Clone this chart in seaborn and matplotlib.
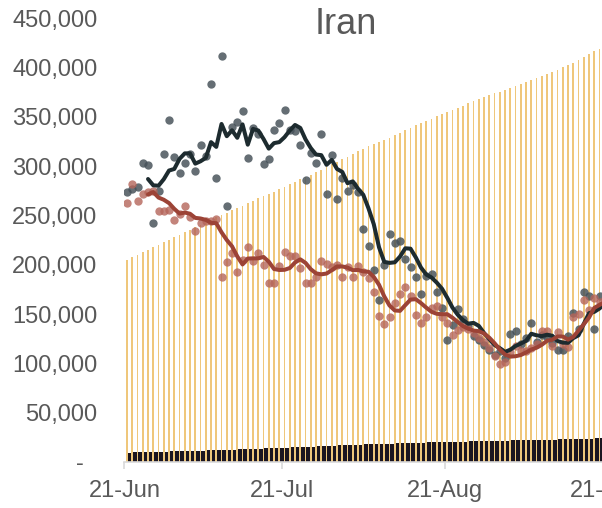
import numpy as np
import pandas as pd
import matplotlib
matplotlib.use("Agg")
import matplotlib.pyplot as plt
import seaborn as sns

# ---------------- data ----------------
start_date = "2020-06-21"

dark_points = [274, 277, 279, 303, 301, 242, 275, 312, 347, 309,
               293, 303, 312, 295, 321, 310, 383, 288, 411, 259,
               340, 345, 356, 308, 339, 332, 302, 307, 336, 344,
               357, 336, 335, 321, 286, 313, 303, 332, 272, 311,
               267, 288, 275, 281, 274, 236, 219, 195, 164, 200,
               231, 222, 224, 206, 198, 187, 170, 189, 191, 172,
               156, 124, 139, 155, 145, 138, 128, 124, 119, 114,
               108, 112, 105, 130, 133, 120, 126, 141, 122, 129,
               127, 121, 114, 114, 128, 151, 135, 172, 168, 135,
               168, 160]

red_points = [263, 282, 265, 272, 274, 275, 254, 254, 255, 245,
              251, 259, 248, 234, 242, 244, 244, 246, 188, 203,
              212, 193, 205, 218, 204, 212, 200, 181, 181, 199,
              213, 209, 209, 197, 181, 181, 188, 204, 201, 198,
              200, 188, 198, 188, 199, 193, 186, 172, 148, 140,
              147, 161, 170, 177, 168, 149, 141, 147, 156, 158,
              147, 141, 129, 134, 137, 135, 131, 126, 122, 116,
              107, 99, 101, 111, 118, 113, 112, 116, 120, 133,
              133, 118, 132, 120, 117, 147, 150, 164, 154, 166,
              162, 165]

total_cases = [204952, 207525, 209970, 212501, 215096, 217724, 220180, 222669, 225205, 227662,
               230211, 232863, 235429, 237878, 240438, 243051, 245688, 248379, 250458, 252720,
               255117, 257303, 259652, 262173, 264561, 267061, 269440, 271606, 273788, 276202,
               278827, 281413, 284034, 286523, 288839, 291172, 293606, 296273, 298909, 301530,
               304204, 306752, 309437, 312035, 314786, 317483, 320117, 322567, 324692, 326712,
               328844, 331189, 333699, 336324, 338825, 341070, 343203, 345450, 347835, 350279,
               352558, 354764, 356792, 358905, 361150, 363363, 365606, 367796, 369911, 371816,
               373570, 375212, 376894, 378752, 380746, 382772, 384666, 386658, 388810, 391112,
               393425, 395488, 397801, 399940, 402029, 404648, 407353, 410334, 413149, 416198,
               419043, 422140]

total_deaths = [9623, 9742, 9863, 9996, 10130, 10239, 10364, 10508, 10670, 10817,
                10958, 11106, 11260, 11408, 11571, 11731, 11931, 12084, 12305, 12447,
                12635, 12829, 13032, 13211, 13410, 13608, 13791, 13979, 14188, 14405,
                14634, 14853, 15074, 15289, 15484, 15700, 15912, 16147, 16343, 16569,
                16766, 16982, 17190, 17405, 17617, 17802, 17976, 18132, 18264, 18427,
                18616, 18800, 18988, 19162, 19331, 19492, 19639, 19804, 19972, 20125,
                20264, 20376, 20502, 20643, 20776, 20901, 21020, 21137, 21259, 21359,
                21462, 21571, 21672, 21797, 21926, 22044, 22154, 22293, 22410, 22542,
                22669, 22798, 22913, 23029, 23157, 23313, 23453, 23632, 23808, 23952,
                24118, 24301]

title = "Iran"

# ---------------- frame ----------------
n = len(total_cases)
dates = pd.date_range(start_date, periods=n, freq="D")
df = pd.DataFrame({
    "pos": np.arange(n),
    "date": dates,
    "dark": np.array(dark_points) * 1000.0,
    "red": np.array(red_points) * 1000.0,
    "cases": total_cases,
    "deaths": total_deaths,
})
df["dark_avg"] = df["dark"].rolling(5).mean()
df["red_avg"] = df["red"].rolling(5).mean()

# ---------------- style ----------------
sns.set_theme(style="white")
plt.rcParams["font.family"] = ["Liberation Sans", "DejaVu Sans"]

W, H = 602, 508
fig = plt.figure(figsize=(W / 100, H / 100), dpi=100)
ax = fig.add_axes([124.4 / W, 46 / H, 525 / W, 444 / H])

grey_txt = "#595959"
axis_grey = "#d9d9d9"

# bars
ax.bar(df["pos"] + 0.57, df["deaths"], width=0.78, color="#1b1520", zorder=1, linewidth=0)
ax.bar(df["pos"], df["cases"], width=0.33, color="#efc77b", zorder=2, linewidth=0)

# points
sns.scatterplot(data=df, x="pos", y="dark", ax=ax, color="#47525a", alpha=0.84,
                s=36, linewidth=0, zorder=3, legend=False)
sns.scatterplot(data=df, x="pos", y="red", ax=ax, color="#b5655a", alpha=0.8,
                s=36, linewidth=0, zorder=4, legend=False)

# 5-day averages
sns.lineplot(data=df, x="pos", y="dark_avg", ax=ax, color="#1d2b2f", linewidth=2.9,
             zorder=5, legend=False)
sns.lineplot(data=df, x="pos", y="red_avg", ax=ax, color="#9c4336", linewidth=2.9,
             zorder=6, legend=False)

# axes
ax.set_xlim(-0.5, 99.5)
ax.set_ylim(0, 450000)
ax.set_xlabel("")
ax.set_ylabel("")

tick_mask = df["date"].dt.day == 21
tick_pos = list(df.loc[tick_mask, "pos"] - 0.5)
tick_lab = list(df.loc[tick_mask, "date"].dt.strftime("%d-%b"))
# next month tick (21-Sep) lies just past the data
tick_pos.append(tick_pos[-1] + 31)
tick_lab.append("21-Sep")
ax.set_xticks(tick_pos)
ax.set_xticklabels(tick_lab)

yt = np.arange(0, 450001, 50000)
ax.set_yticks(yt)
ax.set_yticklabels(["-  " if v == 0 else f"{v:,.0f}" for v in yt])

for s in ["top", "right", "left"]:
    ax.spines[s].set_visible(False)
ax.spines["bottom"].set_color(axis_grey)
ax.spines["bottom"].set_linewidth(1.2)
ax.tick_params(axis="x", direction="out", length=4.8, width=1.2, color=axis_grey,
               labelsize=17, labelcolor=grey_txt, pad=8, bottom=True)
ax.tick_params(axis="y", length=0, labelsize=17, labelcolor=grey_txt, pad=19.5, left=True)
ax.grid(False)
ax.set_facecolor("white")

fig.text(346 / W, 1 - 24 / H, title, ha="center", va="center", fontsize=26,
         color=grey_txt, family=["Liberation Sans", "DejaVu Sans"])

fig.savefig("out.png", dpi=100)
